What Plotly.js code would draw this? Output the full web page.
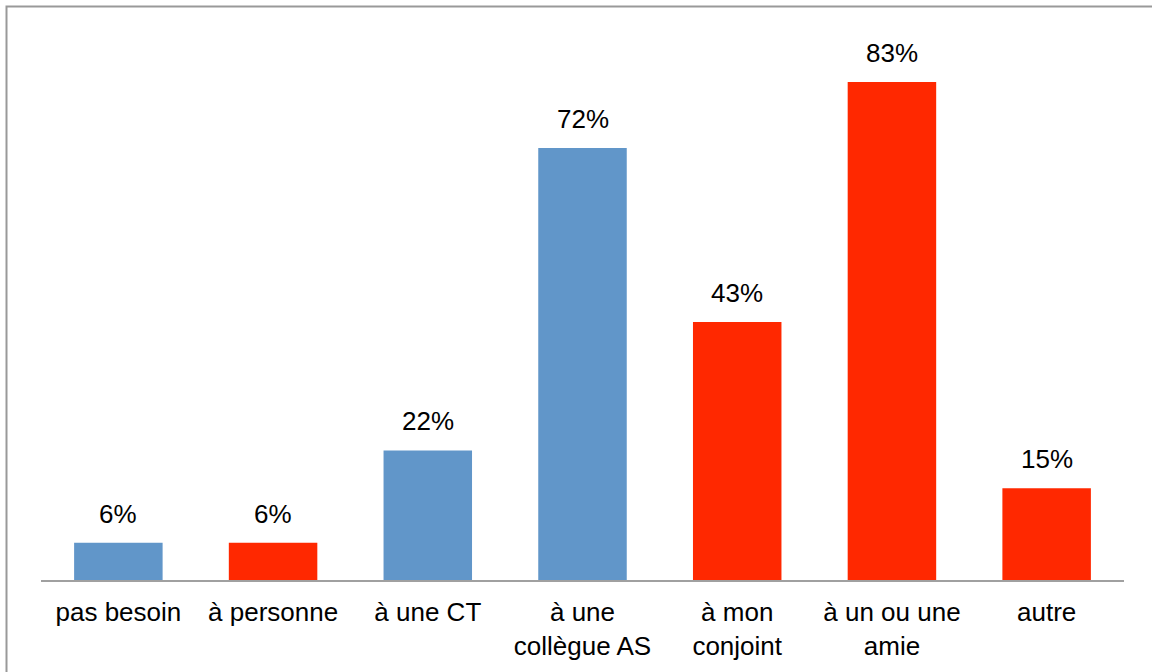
<!DOCTYPE html>
<html>
<head>
<meta charset="utf-8">
<script src="https://cdn.plot.ly/plotly-3.0.1.min.js"></script>
<style>html,body{margin:0;padding:0;background:#fff;}#chart{width:1152px;height:672px;}</style>
</head>
<body>
<div id="chart"></div>
<script>
const categories = ["pas besoin", "à personne", "à une CT", "à une<br>collègue AS", "à mon<br>conjoint", "à un ou une<br>amie", "autre"];
const values = [6.2, 6.2, 21.6, 72, 43, 83, 15.3];
const labels = ["6%", "6%", "22%", "72%", "43%", "83%", "15%"];
const barColors = ["#6196C9", "#FF2800", "#6196C9", "#6196C9", "#FF2800", "#FF2800", "#FF2800"];

const L = 41, T = 40, W = 1083, H = 540;
const annotations = categories.map((c, i) => ({
  x: c, y: values[i], xref: 'x', yref: 'y', text: labels[i], showarrow: false,
  yanchor: 'bottom', yshift: 12, font: {family: 'Liberation Sans, Arial, sans-serif', size: 26, color: '#000'}
}));

Plotly.newPlot('chart', [{
  type: 'bar', x: categories, y: values, marker: {color: barColors}, hoverinfo: 'none'
}], {
  width: 1152, height: 672,
  margin: {l: L, r: 1152 - L - W, t: T, b: 672 - T - H, pad: 0},
  paper_bgcolor: '#fff', plot_bgcolor: '#fff',
  bargap: 0.428, showlegend: false,
  font: {family: 'Liberation Sans, Arial, sans-serif', size: 26, color: '#000'},
  xaxis: {showline: true, linecolor: '#a0a0a0', linewidth: 2, ticks: '', showgrid: false,
          tickfont: {size: 26, color: '#000'}, ticklabelstandoff: 8},
  yaxis: {range: [0, 90], visible: false, showgrid: false, zeroline: false},
  annotations: annotations,
  shapes: [{type: 'rect', xref: 'paper', yref: 'paper',
            x0: (6.5 - L) / W, x1: (1200 - L) / W, y0: (T + H - 760) / H, y1: (T + H - 6.5) / H,
            line: {color: '#999', width: 2}, fillcolor: 'rgba(0,0,0,0)'}]
}, {staticPlot: true});
</script>
</body>
</html>
